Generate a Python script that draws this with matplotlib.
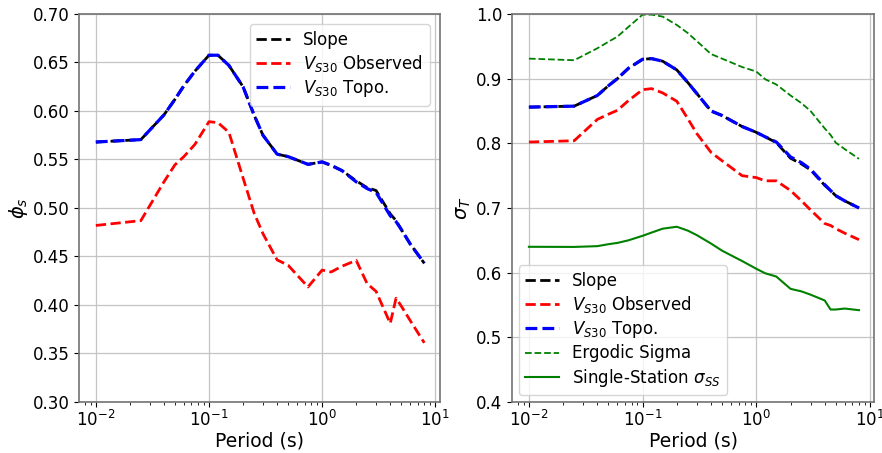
import numpy as np
import matplotlib
matplotlib.use("Agg")
import matplotlib.pyplot as plt
from matplotlib.ticker import MultipleLocator, FormatStrFormatter

# Spectral periods (s)
periods = [0.01, 0.025, 0.04, 0.05, 0.06, 0.075, 0.1, 0.12, 0.15, 0.2, 0.25,
           0.3, 0.4, 0.5, 0.75, 1.0, 1.2, 1.5, 2.0, 2.5, 3.0, 4.0, 4.5, 5.0,
           6.0, 8.0]

# Site-to-site variability phi_s
phi_slope = [0.568, 0.5705, 0.596, 0.612, 0.626, 0.641, 0.6575, 0.6575, 0.647,
             0.625, 0.596, 0.575, 0.5555, 0.553, 0.545, 0.5475, 0.544, 0.5385,
             0.528, 0.521, 0.518, 0.494, 0.487, 0.478, 0.463, 0.443]
phi_obs = [0.482, 0.487, 0.527, 0.5445, 0.553, 0.5655, 0.589, 0.588, 0.578,
           0.531, 0.495, 0.4735, 0.4465, 0.441, 0.4186, 0.436, 0.434, 0.440,
           0.446, 0.422, 0.414, 0.381, 0.407, 0.399, 0.384, 0.361]
phi_topo = [0.568, 0.5705, 0.596, 0.612, 0.626, 0.641, 0.6575, 0.6575, 0.647,
            0.625, 0.596, 0.575, 0.5555, 0.553, 0.545, 0.5475, 0.544, 0.5385,
            0.527, 0.520, 0.516, 0.492, 0.486, 0.478, 0.463, 0.443]

# Total standard deviation sigma_T
sig_slope = [0.856, 0.8575, 0.874, 0.889, 0.900, 0.916, 0.930, 0.931, 0.927,
             0.9135, 0.894, 0.877, 0.850, 0.843, 0.826, 0.817, 0.810, 0.801,
             0.777, 0.768, 0.759, 0.735, 0.727, 0.719, 0.711, 0.700]
sig_obs = [0.802, 0.804, 0.837, 0.845, 0.851, 0.866, 0.883, 0.8846, 0.878,
           0.865, 0.838, 0.815, 0.786, 0.773, 0.750, 0.747, 0.742, 0.742,
           0.727, 0.711, 0.697, 0.676, 0.673, 0.668, 0.661, 0.651]
sig_topo = [0.856, 0.8575, 0.874, 0.889, 0.900, 0.916, 0.930, 0.931, 0.927,
            0.9135, 0.894, 0.877, 0.850, 0.843, 0.826, 0.817, 0.810, 0.802,
            0.779, 0.770, 0.760, 0.736, 0.727, 0.719, 0.711, 0.700]
sig_ergodic = [0.931, 0.9285, 0.947, 0.957, 0.965, 0.980, 0.999, 0.999, 0.996,
               0.983, 0.9705, 0.958, 0.938, 0.931, 0.918, 0.911, 0.899, 0.891,
               0.874, 0.862, 0.850, 0.823, 0.813, 0.801, 0.791, 0.776]
sig_ss = [0.640, 0.6398, 0.641, 0.644, 0.646, 0.650, 0.657, 0.662, 0.668,
          0.671, 0.665, 0.658, 0.645, 0.634, 0.618, 0.606, 0.599, 0.594,
          0.575, 0.571, 0.566, 0.557, 0.543, 0.543, 0.5445, 0.542]

plt.rcParams.update({
    "font.family": "DejaVu Sans",
    "xtick.labelsize": 12,
    "ytick.labelsize": 12,
    "axes.edgecolor": "0.45",
    "axes.linewidth": 1.2,
    "grid.color": "#c4c4c4",
    "grid.linewidth": 0.9,
})

fig = plt.figure(figsize=(8.82, 4.53), dpi=100)
ax1 = fig.add_axes([0.0896, 0.1126, 0.4087, 0.8565])
ax2 = fig.add_axes([0.5805, 0.1126, 0.4107, 0.8565])

lab_obs = r"$V_{S30}$ Observed"
lab_topo = r"$V_{S30}$ Topo."

ax1.plot(periods, phi_slope, "--", color="black", lw=2, label="Slope")
ax1.plot(periods, phi_obs, "--", color="red", lw=2, label=lab_obs)
ax1.plot(periods, phi_topo, "--", color="blue", lw=2.3, label=lab_topo)
ax1.set_ylim(0.30, 0.70)
ax1.yaxis.set_major_locator(MultipleLocator(0.05))
ax1.yaxis.set_major_formatter(FormatStrFormatter("%.2f"))
ax1.set_ylabel(r"$\phi_s$", fontsize=14, labelpad=2)
ax1.legend(loc="upper right", fontsize=12, labelspacing=0.25,
           borderaxespad=0.6)

ax2.plot(periods, sig_slope, "--", color="black", lw=2, label="Slope")
ax2.plot(periods, sig_obs, "--", color="red", lw=2, label=lab_obs)
ax2.plot(periods, sig_topo, "--", color="blue", lw=2.3, label=lab_topo)
ax2.plot(periods, sig_ergodic, "--", color="green", lw=1.3, label="Ergodic Sigma")
ax2.plot(periods, sig_ss, "-", color="green", lw=1.5,
         label=r"Single-Station $\sigma_{SS}$")
ax2.set_ylim(0.4, 1.0)
ax2.yaxis.set_major_locator(MultipleLocator(0.1))
ax2.yaxis.set_major_formatter(FormatStrFormatter("%.1f"))
ax2.set_ylabel(r"$\sigma_T$", fontsize=14, labelpad=2)
ax2.legend(loc="lower left", fontsize=12, labelspacing=0.25,
           borderaxespad=0.4)

for ax in (ax1, ax2):
    ax.set_xscale("log")
    ax.set_xlim(0.0071, 10.9)
    ax.set_xlabel("Period (s)", fontsize=13.5, labelpad=1)
    ax.tick_params(axis="x", which="major", pad=2)
    ax.grid(True, which="major")
    ax.set_axisbelow(True)

fig.savefig("out.png", dpi=100)
